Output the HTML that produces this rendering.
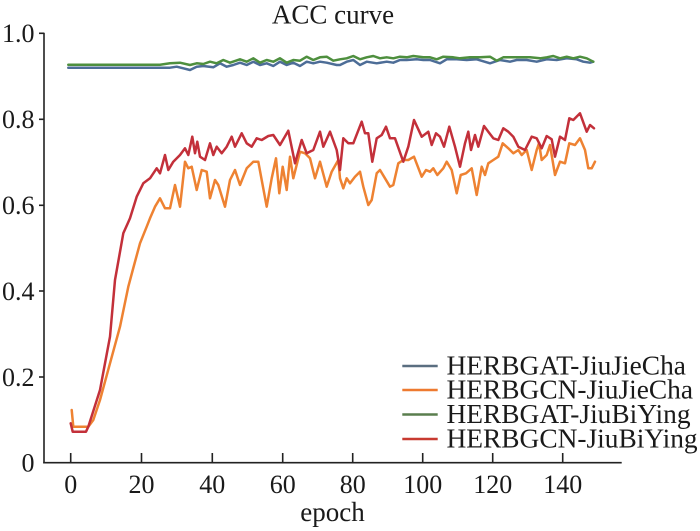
<!DOCTYPE html>
<html>
<head>
<meta charset="utf-8">
<style>
html,body{margin:0;padding:0;background:#fff;}
svg{display:block;}
text{font-family:"Liberation Serif","Times New Roman",serif;fill:#1a1a1a;}
</style>
</head>
<body>
<svg width="700" height="531" viewBox="0 0 700 531" xmlns="http://www.w3.org/2000/svg">
<rect width="700" height="531" fill="#fff"/>
<!-- title -->
<text x="333" y="23.5" font-size="27" text-anchor="middle">ACC curve</text>

<!-- axes -->
<g stroke="#222" stroke-width="1.6" fill="none">
<line x1="44" y1="32.7" x2="44" y2="463.4"/>
<line x1="43.2" y1="462.7" x2="621.7" y2="462.7"/>
<!-- y ticks -->
<line x1="39" y1="33.3" x2="44" y2="33.3"/>
<line x1="39" y1="119.3" x2="44" y2="119.3"/>
<line x1="39" y1="205.3" x2="44" y2="205.3"/>
<line x1="39" y1="291" x2="44" y2="291"/>
<line x1="39" y1="377" x2="44" y2="377"/>
<!-- x ticks -->
<line x1="70.7" y1="453" x2="70.7" y2="462.7"/>
<line x1="141.5" y1="453" x2="141.5" y2="462.7"/>
<line x1="212.3" y1="453" x2="212.3" y2="462.7"/>
<line x1="282.7" y1="453" x2="282.7" y2="462.7"/>
<line x1="352.7" y1="453" x2="352.7" y2="462.7"/>
<line x1="422.7" y1="453" x2="422.7" y2="462.7"/>
<line x1="492.7" y1="453" x2="492.7" y2="462.7"/>
<line x1="562.7" y1="453" x2="562.7" y2="462.7"/>
</g>

<!-- y labels -->
<g font-size="26" text-anchor="end">
<text x="34.5" y="42">1.0</text>
<text x="34.5" y="128">0.8</text>
<text x="34.5" y="214">0.6</text>
<text x="34.5" y="300">0.4</text>
<text x="34.5" y="386">0.2</text>
<text x="34.5" y="471.5">0</text>
</g>
<!-- x labels -->
<g font-size="26" text-anchor="middle">
<text x="70.7" y="493">0</text>
<text x="141.5" y="493">20</text>
<text x="212.3" y="493">40</text>
<text x="282.7" y="493">60</text>
<text x="352.7" y="493">80</text>
<text x="422.7" y="493">100</text>
<text x="492.7" y="493">120</text>
<text x="562.7" y="493">140</text>
</g>
<text x="332.5" y="521" font-size="27" text-anchor="middle">epoch</text>

<!-- series -->
<g fill="none" stroke-width="2.5" stroke-linejoin="round" stroke-linecap="round">
<polyline stroke="#4d6d97" points="68.3,67.7 170,67.7 176.7,66.7 183.3,68.3 190,70 196.7,66.7 203.3,66 213.3,67.3 220,63.3 226.7,66.7 233.3,65 240,62.7 246.7,65 253.3,61.7 260,65 266.7,63.3 273.3,66 280,61.7 286.7,65 293.3,62.7 300,66 306.7,61.7 313.3,63.3 320,61.7 326.7,62.7 336.7,65 340,65 346.7,61.7 353.3,60 360,65 366.7,61.7 376.7,63.3 386.7,61.7 393.3,62.7 400,60 406.7,60 416.7,59.3 423.3,60 430,60 440,63.3 446.7,59.3 456.7,59.3 466.7,60 476.7,59.3 490,63.3 500,60 510,61.7 516.7,60 526.7,60 536.7,61.7 546.7,59.3 556.7,60 566.7,58.3 576.7,59.3 583.3,61.7 590,62.7 593.3,61.7"/>
<polyline stroke="#ee8232" points="71.7,410 73.3,426.7 88.3,426.7 93.3,420 100,400 110,363.3 120,326.7 128.3,286.7 133.3,268 140,243.3 146.7,226.7 150,218.3 155,206.7 160,198.3 165,208.3 170,208.3 175,185 180,206.7 185,161.7 188.3,168.3 191.7,166.7 196.7,190 201.7,170 206.7,171.7 210,198.3 215,180 218.3,185 225,206.7 230,180 235,170 240,185 246.7,168.3 253.3,161.7 258.3,161.7 261.7,180 266.7,206.7 271.7,178.3 276,158.3 279.3,193.3 282.7,166.7 286.7,190 290,156.7 293.3,178.3 300,151.7 305,153.3 310,158.3 315,178.3 320,161.7 326.7,186.7 331.7,171.7 338.3,160 340,178.3 343.3,188.3 346.7,178.3 350,183.3 355,176.7 360,171.7 363.3,186.7 368.3,205 371.7,200 376.7,173.3 380,170 385,178.3 390,186.7 393.3,185 398.3,163.3 403.3,160 408.3,160 414,156.7 421.7,176.7 426,170 430,171.7 433.3,168.3 437.3,175 443.3,168.3 446.7,161.7 451.7,170 456.7,193.3 460.7,175 466,173.3 471.7,168.3 476.7,195 481.7,166.7 485,175 488.3,163.3 493.3,160 498.3,156.7 502.7,143.3 508.3,148.3 513.3,153.3 518.3,150 521.7,155 526.7,150 531.7,170 536.7,150 539,143.3 541.7,160 546.7,155 550,145 555,175 560,161.7 565,163.3 569.3,143.3 575,145 580,138.3 585,150 588.3,168.3 591.7,168.3 595,161.7"/>
<polyline stroke="#4e8f3e" points="68.3,64.7 160,64.7 170,63.3 180,62.7 190,65 196.7,63.3 203.3,64 210,61.7 216.7,63.3 223.3,60 230,62.7 240,59.3 246.7,61.7 253.3,58.3 260,62.7 266.7,60 273.3,61.7 280,58.3 286.7,62.7 293.3,60 300,60.7 306.7,56.7 313.3,60 320,57.3 326.7,56.7 333.3,60.7 340,59.3 346.7,58.3 353.3,56 360,59.3 366.7,57.3 373.3,56 380,58.3 386.7,57.3 393.3,58.3 400,56.7 406.7,57.3 413.3,56 423.3,57.3 430,57.3 436.7,59.3 443.3,56.7 453.3,57.3 460,58.3 470,57.3 480,57.3 490,56.7 496.7,60.7 503.3,57.3 513.3,57.3 523.3,57.3 530,57.3 540,58.3 546.7,57.3 553.3,56 560,58.3 566.7,56.7 573.3,58.3 580,56.7 586.7,58.3 593.3,61.7"/>
<polyline stroke="#c3303a" points="70.7,423.3 72.7,431.7 86,431.7 88.3,426.7 100,390 110,336.7 115,280 123.3,233.3 130,218.3 136.7,196.7 143.3,183.3 150,178.3 156.7,168.3 160,173.3 165,155 168.3,170 173.3,161.7 180,155 185,148.3 188.3,155 192.3,136.7 195,153.3 197.3,141.7 200,156.7 205,160 210,143.3 213.3,155 216.7,146.7 221.7,153.3 226.7,146.7 231.7,136.7 235,146.7 241.7,133.3 246.7,143.3 251.7,146.7 256.7,138.3 261.7,140 268.3,136 273.3,135 280,145 288.3,130.7 295,163.3 301.7,140 306.7,153.3 313.3,150 320,131.7 323.3,146.7 330,131.7 336.7,150 340,170 343.3,138.3 348.3,143.3 353.3,143.3 361.7,121.7 365,133.3 368.3,133.3 372.3,161.7 376.7,138.3 381.7,135 386,126.7 390,138.3 395,138.3 403.3,161.7 408.3,146.7 414,120 421.7,136.7 428.3,131.7 431.7,145 436,133.3 440,136.7 444,146.7 449.3,126.7 455,146.7 460,166.7 465,143.3 468.3,131.7 471,150 475,135 478.3,146.7 484,126 488.3,131.7 493.3,138.3 498.3,140 503.3,128.3 508.3,131.7 513.3,136.7 518.3,146.7 525,150 531.7,136.7 536.7,138.3 541.7,148.3 546.7,136 551.7,139.3 555,156.7 560,136.7 565,140 569.3,118.3 573.3,120 580,113.3 586.7,131.7 590,125 594,128.3"/>
</g>

<!-- legend -->
<g stroke-width="2.4">
<line x1="402.3" y1="366" x2="437.7" y2="366" stroke="#5a6e80"/>
<line x1="402.3" y1="390" x2="437.7" y2="390" stroke="#ee7a30"/>
<line x1="402.3" y1="414.5" x2="437.7" y2="414.5" stroke="#5a7e4e"/>
<line x1="402.3" y1="439" x2="437.7" y2="439" stroke="#c83a30"/>
</g>
<g font-size="27.4">
<text x="446.5" y="374.5">HERBGAT-JiuJieCha</text>
<text x="446.5" y="398.5">HERBGCN-JiuJieCha</text>
<text x="446.5" y="423">HERBGAT-JiuBiYing</text>
<text x="446.5" y="447.5">HERBGCN-JiuBiYing</text>
</g>
</svg>
</body>
</html>
